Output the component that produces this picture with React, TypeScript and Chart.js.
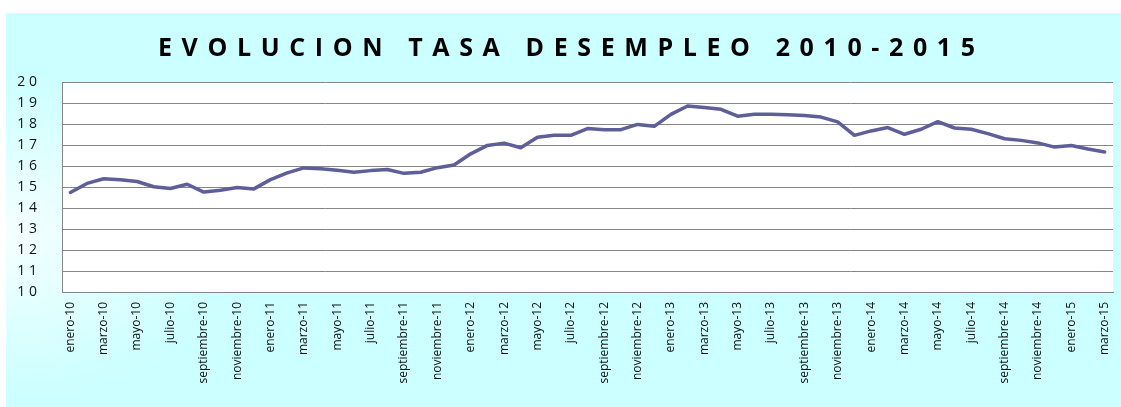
import React, { useEffect, useRef } from "react";
import { Chart, registerables } from "chart.js";

Chart.register(...registerables);

const TITLE = "EVOLUCION TASA DESEMPLEO 2010-2015";

const MONTHS = [
  "enero", "febrero", "marzo", "abril", "mayo", "junio",
  "julio", "agosto", "septiembre", "octubre", "noviembre", "diciembre",
];
const YEARS = ["10", "11", "12", "13", "14", "15"];
const MONTH_COUNT = 63; // enero-10 .. marzo-15

const CATEGORIES: string[] = [];
for (const y of YEARS) for (const m of MONTHS) CATEGORIES.push(`${m}-${y}`);
CATEGORIES.length = MONTH_COUNT;

const TASA = [
  14.74, 15.17, 15.39, 15.35, 15.26, 15.01, 14.93, 15.13, 14.76, 14.85, 14.98, 14.91,
  15.35, 15.67, 15.91, 15.87, 15.80, 15.70, 15.78, 15.83, 15.65, 15.70, 15.92, 16.05,
  16.58, 16.98, 17.09, 16.87, 17.37, 17.46, 17.46, 17.78, 17.73, 17.73, 17.98, 17.89,
  18.46, 18.86, 18.79, 18.70, 18.37, 18.46, 18.46, 18.44, 18.40, 18.33, 18.10, 17.46,
  17.67, 17.83, 17.51, 17.75, 18.11, 17.81, 17.75, 17.54, 17.30, 17.22, 17.10, 16.90,
  16.98, 16.81, 16.67,
];

const Y_MIN = 10;
const Y_MAX = 20;

const W = 1121;
const H = 407;

const backgroundPlugin = {
  id: "bgPanel",
  beforeDraw(chart: any) {
    const { ctx, chartArea } = chart;
    ctx.save();
    ctx.fillStyle = "#CCFFFF";
    ctx.fillRect(6, 13, W - 6, H - 13);
    ctx.save();
    ctx.beginPath();
    ctx.rect(6, 13, W - 6, H - 13);
    ctx.clip();
    ctx.translate(6, 235);
    ctx.scale(1.4, 1);
    const g = ctx.createRadialGradient(0, 0, 0, 0, 0, 160);
    g.addColorStop(0, "rgba(255,255,255,0.8)");
    g.addColorStop(1, "rgba(255,255,255,0)");
    ctx.fillStyle = g;
    ctx.fillRect(-20, -300, 400, 600);
    ctx.restore();
    ctx.fillStyle = "#FFFFFF";
    ctx.fillRect(
      chartArea.left,
      chartArea.top,
      chartArea.right - chartArea.left,
      chartArea.bottom - chartArea.top
    );
    ctx.restore();
  },
};

const titlePlugin = {
  id: "spacedTitle",
  afterDraw(chart: any) {
    const ctx = chart.ctx;
    ctx.save();
    ctx.font = 'bold 25px "Open Sans", "DejaVu Sans", sans-serif';
    ctx.fillStyle = "#000000";
    ctx.textBaseline = "alphabetic";
    ctx.textAlign = "left";
    const chars = [...TITLE];
    const widths = chars.map((c) => ctx.measureText(c).width);
    const total = widths.reduce((a, b) => a + b, 0);
    const left = 158;
    const right = 975;
    const gap = (right - left - total) / (chars.length - 1);
    let x = left;
    chars.forEach((c, i) => {
      ctx.fillText(c, x, 56);
      x += widths[i] + gap;
    });
    ctx.restore();
  },
};

export default function App() {
  const ref = useRef<HTMLCanvasElement | null>(null);

  useEffect(() => {
    if (!ref.current) return;
    const chart = new Chart(ref.current, {
      type: "line",
      data: {
        labels: CATEGORIES,
        datasets: [
          {
            data: TASA,
            borderColor: "#5E5E99",
            borderWidth: 3.5,
            pointRadius: 0,
            tension: 0,
            borderJoinStyle: "round",
            borderCapStyle: "round",
            fill: false,
          },
        ],
      },
      options: {
        responsive: false,
        animation: false,
        devicePixelRatio: 1,
        layout: { padding: { left: 6, right: 8, top: 82, bottom: 0 } },
        plugins: {
          legend: { display: false },
          title: { display: false },
          tooltip: { enabled: false },
        },
        scales: {
          x: {
            type: "category",
            offset: true,
            grid: { display: false, drawTicks: false },
            border: { display: true, color: "#868686", width: 1 },
            ticks: {
              autoSkip: false,
              minRotation: 90,
              maxRotation: 90,
              padding: 10,
              color: "#111111",
              font: { family: '"Open Sans", sans-serif', size: 12 },
              callback: (_v: any, i: number) => (i % 2 === 0 ? CATEGORIES[i] : ""),
            },
            afterFit: (s: any) => {
              s.height = 115;
              s.paddingLeft = 0;
              s.paddingRight = 0;
            },
          },
          y: {
            min: Y_MIN,
            max: Y_MAX,
            grid: { color: "#868686", lineWidth: 1, drawTicks: false },
            border: { display: true, color: "#868686", width: 1 },
            ticks: {
              stepSize: 1,
              padding: 25,
              color: "#111111",
              font: { family: '"Open Sans", sans-serif', size: 14 },
              callback: (v: any) => String(v).split("").join(" "),
            },
            afterFit: (s: any) => {
              s.width = 56;
              s.paddingTop = 0;
              s.paddingBottom = 0;
            },
          },
        },
      },
      plugins: [backgroundPlugin, titlePlugin],
    });
    return () => chart.destroy();
  }, []);

  return (
    <div style={{ position: "absolute", left: 0, top: 0, width: W, height: H }}>
      <canvas ref={ref} width={W} height={H} style={{ display: "block" }} />
    </div>
  );
}
